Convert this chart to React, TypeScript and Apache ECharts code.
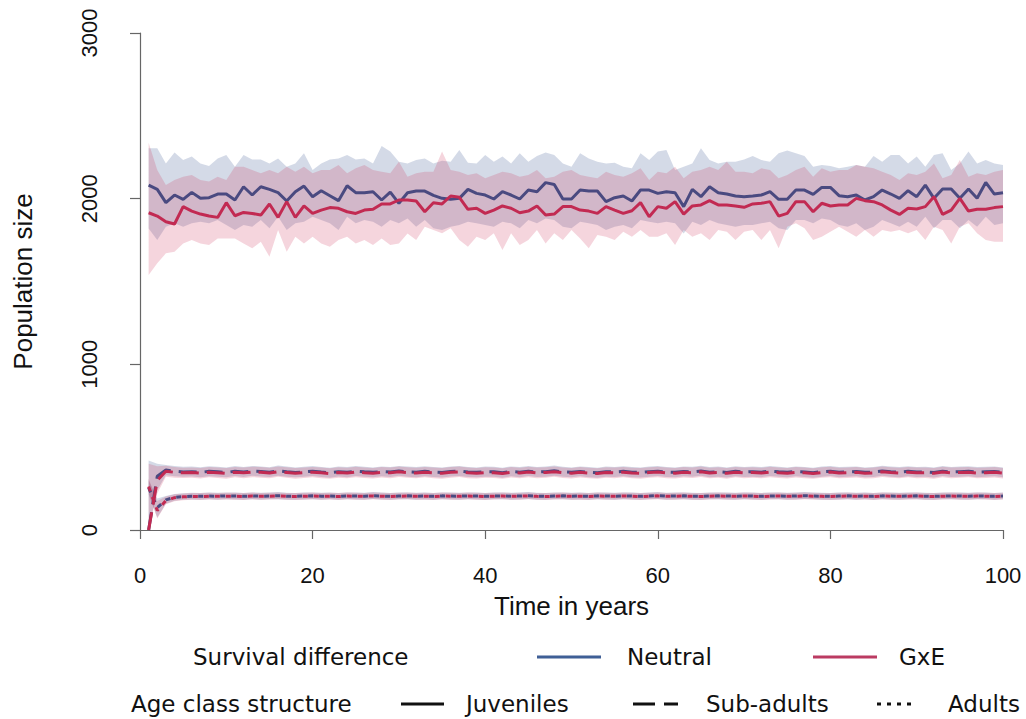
import React, { useEffect, useRef } from "react";
import * as echarts from "echarts";

const years = Array.from({ length: 100 }, (_, i) => i + 1);
const xTicks = [0, 20, 40, 60, 80, 100];
const yTicks = [0, 1000, 2000, 3000];

// Juveniles
const nJuv = [
  2082, 2056, 1976, 2022, 1996, 2038, 2002, 2006, 2028, 2028,
  1992, 2072, 2022, 2072, 2056, 2036, 1986, 2042, 2076, 2012,
  2048, 2018, 1988, 2078, 2036, 2036, 2042, 1992, 2040, 1972,
  2036, 2046, 2046, 2020, 2002, 1996, 2002, 2056, 2032, 2022,
  1998, 2042, 2022, 1998, 2052, 2042, 2097, 2086, 1998, 1998,
  2052, 2046, 2046, 1982, 2006, 2016, 1986, 2052, 2052, 2032,
  2042, 2036, 1952, 2056, 2012, 2072, 2036, 2028, 2016, 2012,
  2016, 2022, 2042, 1996, 1996, 2052, 2052, 2026, 2068, 2068,
  2018, 2012, 2022, 1992, 2012, 2052, 2028, 2002, 2048, 2012,
  2082, 2002, 2058, 2058, 2002, 2058, 2002, 2098, 2028, 2036,
];
const nJuvLo = [
  1820, 1750, 1831, 1851, 1831, 1851, 1861, 1851, 1871, 1841,
  1811, 1841, 1831, 1871, 1821, 1891, 1811, 1851, 1861, 1891,
  1871, 1851, 1811, 1891, 1851, 1871, 1861, 1831, 1871, 1851,
  1881, 1831, 1871, 1821, 1811, 1831, 1841, 1861, 1851, 1841,
  1831, 1861, 1851, 1821, 1871, 1851, 1881, 1871, 1831, 1821,
  1861, 1851, 1841, 1811, 1831, 1841, 1821, 1871, 1861, 1851,
  1861, 1851, 1790, 1861, 1841, 1871, 1851, 1841, 1831, 1841,
  1841, 1851, 1861, 1821, 1811, 1871, 1871, 1851, 1881, 1871,
  1841, 1831, 1851, 1811, 1831, 1871, 1851, 1831, 1861, 1831,
  1891, 1821, 1871, 1871, 1821, 1871, 1831, 1891, 1841, 1851,
];
const nJuvHi = [
  2304, 2304, 2213, 2278, 2233, 2254, 2213, 2197, 2243, 2264,
  2193, 2264, 2237, 2237, 2213, 2243, 2193, 2213, 2274, 2173,
  2213, 2237, 2243, 2264, 2237, 2243, 2213, 2318, 2284, 2223,
  2213, 2233, 2243, 2213, 2229, 2223, 2294, 2217, 2213, 2264,
  2223, 2254, 2213, 2274, 2223, 2258, 2278, 2264, 2213, 2193,
  2274, 2243, 2223, 2213, 2217, 2193, 2183, 2274, 2233, 2284,
  2294, 2173, 2193, 2213, 2304, 2233, 2213, 2223, 2223, 2237,
  2258, 2233, 2223, 2274, 2290, 2274, 2258, 2193, 2203, 2197,
  2183, 2193, 2203, 2193, 2258, 2223, 2264, 2264, 2213, 2254,
  2193, 2264, 2274, 2173, 2213, 2284, 2213, 2233, 2213, 2203,
];
const gJuv = [
  1915, 1895, 1861, 1847, 1952, 1925, 1907, 1895, 1887, 1976,
  1897, 1917, 1911, 1901, 1968, 1887, 1982, 1887, 1956, 1911,
  1931, 1946, 1942, 1921, 1911, 1931, 1936, 1968, 1968, 1992,
  1992, 1986, 1921, 1975, 1968, 2016, 2008, 1936, 1942, 1911,
  1931, 1956, 1942, 1915, 1925, 1956, 1901, 1907, 1952, 1952,
  1931, 1925, 1911, 1952, 1931, 1911, 1927, 1976, 1891, 1952,
  1942, 1982, 1907, 1956, 1962, 1988, 1962, 1962, 1956, 1948,
  1968, 1972, 1982, 1895, 1911, 1982, 1982, 1921, 1972, 1956,
  1962, 1962, 2002, 1988, 1982, 1962, 1931, 1905, 1942, 1938,
  1952, 2012, 1905, 1931, 2002, 1925, 1936, 1936, 1946, 1952,
];
const gJuvLo = [
  1539, 1610, 1670, 1680, 1730, 1750, 1730, 1720, 1760, 1760,
  1760, 1730, 1700, 1740, 1650, 1811, 1680, 1770, 1730, 1770,
  1730, 1710, 1750, 1770, 1730, 1750, 1720, 1760, 1720, 1730,
  1790, 1750, 1831, 1811, 1791, 1821, 1750, 1710, 1770, 1750,
  1791, 1690, 1791, 1720, 1750, 1811, 1730, 1791, 1750, 1811,
  1760, 1700, 1781, 1770, 1750, 1801, 1770, 1811, 1770, 1770,
  1791, 1720, 1811, 1770, 1791, 1750, 1811, 1801, 1750, 1801,
  1811, 1750, 1811, 1700, 1831, 1851, 1821, 1750, 1770, 1801,
  1831, 1801, 1770, 1811, 1770, 1811, 1801, 1811, 1791, 1811,
  1750, 1831, 1811, 1730, 1831, 1851, 1791, 1750, 1740, 1740,
];
const gJuvHi = [
  2338, 2173, 2082, 2113, 2133, 2143, 2113, 2103, 2133, 2113,
  2193, 2193, 2173, 2153, 2173, 2153, 2193, 2163, 2193, 2153,
  2173, 2173, 2203, 2153, 2183, 2203, 2173, 2163, 2153, 2223,
  2133, 2153, 2163, 2163, 2284, 2173, 2163, 2143, 2153, 2123,
  2143, 2163, 2153, 2133, 2143, 2173, 2123, 2133, 2163, 2173,
  2143, 2133, 2123, 2163, 2143, 2133, 2153, 2183, 2113, 2163,
  2153, 2193, 2123, 2163, 2173, 2193, 2173, 2223, 2163, 2163,
  2153, 2183, 2173, 2123, 2143, 2173, 2193, 2133, 2183, 2163,
  2173, 2173, 2203, 2193, 2183, 2163, 2143, 2113, 2153, 2143,
  2163, 2213, 2123, 2143, 2233, 2133, 2153, 2143, 2163, 2173,
];

// Sub-adults
const nSub = [
  0, 325, 362, 355, 350, 352, 348, 354, 351, 347,
  355, 350, 356, 353, 349, 358, 352, 347, 351, 355,
  350, 346, 352, 349, 355, 351, 348, 353, 350, 356,
  352, 349, 354, 350, 347, 353, 356, 350, 348, 352,
  351, 346, 353, 349, 355, 350, 352, 357, 351, 348,
  353, 349, 346, 352, 350, 354, 349, 347, 352, 355,
  350, 348, 353, 351, 356, 349, 352, 347, 354, 350,
  352, 349, 355, 351, 348, 353, 350, 346, 352, 355,
  349, 351, 353, 348, 350, 356, 352, 349, 354, 350,
  351, 347, 355, 350, 352, 354, 349, 351, 353, 348,
];
const nSubLo = [
  0, 240, 330, 325, 322, 323, 318, 325, 322, 318,
  326, 320, 327, 323, 320, 328, 322, 318, 321, 326,
  320, 316, 323, 319, 326, 321, 318, 324, 320, 327,
  322, 319, 325, 320, 317, 323, 326, 320, 318, 322,
  321, 316, 324, 319, 326, 320, 322, 328, 321, 318,
  324, 319, 316, 322, 320, 325, 319, 317, 322, 326,
  320, 318, 324, 321, 327, 319, 322, 317, 325, 320,
  322, 319, 326, 321, 318, 324, 320, 316, 322, 326,
  319, 321, 324, 318, 320, 327, 322, 319, 325, 320,
  321, 317, 326, 320, 322, 325, 319, 321, 324, 318,
];
const nSubHi = [
  420, 400, 392, 386, 382, 384, 379, 385, 382, 377,
  386, 381, 387, 384, 379, 390, 383, 377, 382, 386,
  381, 376, 383, 380, 386, 382, 378, 384, 381, 387,
  383, 380, 385, 381, 377, 384, 387, 381, 378, 383,
  382, 376, 384, 380, 386, 381, 383, 389, 382, 378,
  384, 380, 376, 383, 381, 385, 380, 377, 383, 386,
  381, 378, 384, 382, 388, 380, 383, 377, 385, 381,
  383, 380, 386, 382, 378, 384, 381, 376, 383, 386,
  380, 382, 384, 378, 381, 388, 383, 380, 385, 381,
  382, 377, 386, 381, 383, 385, 380, 382, 384, 378,
];
const gSub = [
  0, 300, 355, 348, 345, 347, 343, 349, 346, 342,
  349, 345, 350, 348, 344, 352, 347, 342, 346, 349,
  345, 341, 347, 344, 350, 346, 343, 348, 345, 351,
  347, 344, 349, 345, 342, 348, 351, 345, 343, 347,
  346, 341, 348, 344, 350, 345, 347, 352, 346, 343,
  348, 344, 341, 347, 345, 349, 344, 342, 347, 350,
  345, 343, 348, 346, 351, 344, 347, 342, 349, 345,
  347, 344, 350, 346, 343, 348, 345, 341, 347, 350,
  344, 346, 348, 343, 345, 351, 347, 344, 349, 345,
  346, 342, 350, 345, 347, 349, 344, 346, 348, 343,
];
const gSubLo = [
  0, 220, 322, 316, 314, 316, 311, 318, 314, 310,
  318, 313, 319, 316, 312, 321, 315, 310, 314, 318,
  313, 309, 316, 312, 319, 314, 311, 317, 313, 320,
  315, 312, 318, 313, 310, 316, 320, 313, 311, 315,
  314, 309, 317, 312, 319, 313, 315, 321, 314, 311,
  317, 312, 309, 315, 313, 318, 312, 310, 315, 319,
  313, 311, 317, 314, 320, 312, 315, 310, 318, 313,
  315, 312, 319, 314, 311, 317, 313, 309, 315, 319,
  312, 314, 317, 311, 313, 320, 315, 312, 318, 313,
  314, 310, 319, 313, 315, 318, 312, 314, 317, 311,
];
const gSubHi = [
  400, 385, 388, 380, 376, 378, 375, 381, 378, 374,
  381, 377, 382, 380, 376, 384, 379, 374, 378, 381,
  377, 373, 379, 376, 382, 378, 375, 380, 377, 383,
  379, 376, 381, 377, 374, 380, 383, 377, 375, 379,
  378, 373, 380, 376, 382, 377, 379, 384, 378, 375,
  380, 376, 373, 379, 377, 381, 376, 374, 379, 382,
  377, 375, 380, 378, 383, 376, 379, 374, 381, 377,
  379, 376, 382, 378, 375, 380, 377, 373, 379, 382,
  376, 378, 380, 375, 377, 383, 379, 376, 381, 377,
  378, 374, 382, 377, 379, 381, 376, 378, 380, 375,
];

// Adults
const nAd = [
  255, 135, 182, 197, 202, 204, 203, 205, 204, 206,
  205, 203, 206, 204, 205, 207, 204, 203, 205, 206,
  204, 205, 203, 206, 205, 204, 207, 205, 203, 205,
  206, 204, 205, 203, 206, 205, 204, 206, 205, 203,
  205, 206, 204, 205, 207, 204, 203, 205, 206, 204,
  205, 203, 206, 205, 204, 206, 205, 203, 205, 207,
  204, 205, 206, 204, 203, 205, 206, 205, 204, 206,
  205, 203, 205, 206, 204, 205, 207, 205, 204, 203,
  205, 206, 204, 205, 203, 206, 205, 204, 205, 206,
  204, 203, 205, 206, 205, 204, 206, 205, 203, 205,
];
const nAdLo = [
  215, 75, 158, 176, 182, 184, 182, 185, 183, 186,
  184, 182, 186, 183, 185, 186, 183, 182, 184, 186,
  183, 185, 182, 186, 184, 183, 187, 184, 182, 185,
  186, 183, 184, 182, 186, 184, 183, 186, 184, 182,
  185, 186, 183, 184, 187, 183, 182, 185, 186, 183,
  184, 182, 186, 184, 183, 186, 184, 182, 185, 187,
  183, 184, 186, 183, 182, 185, 186, 184, 183, 186,
  184, 182, 185, 186, 183, 184, 187, 185, 183, 182,
  184, 186, 183, 185, 182, 186, 184, 183, 185, 186,
  183, 182, 185, 186, 184, 183, 186, 185, 182, 185,
];
const nAdHi = [
  300, 190, 205, 218, 222, 225, 224, 226, 225, 227,
  226, 224, 227, 225, 226, 229, 225, 224, 226, 227,
  225, 226, 224, 227, 226, 225, 229, 226, 224, 226,
  227, 225, 226, 224, 227, 226, 225, 227, 226, 224,
  226, 227, 225, 226, 229, 225, 224, 226, 227, 225,
  226, 224, 227, 226, 225, 227, 226, 224, 226, 229,
  225, 226, 227, 225, 224, 226, 227, 226, 225, 227,
  226, 224, 226, 227, 225, 226, 229, 226, 225, 224,
  226, 227, 225, 226, 224, 227, 226, 225, 226, 227,
  225, 224, 226, 227, 226, 225, 227, 226, 224, 226,
];
const gAd = [
  262, 118, 178, 195, 200, 203, 202, 204, 203, 204,
  204, 202, 205, 203, 204, 206, 203, 202, 204, 205,
  203, 204, 202, 205, 204, 203, 206, 204, 202, 204,
  205, 203, 204, 202, 205, 204, 203, 205, 204, 202,
  204, 205, 203, 204, 206, 203, 202, 204, 205, 203,
  204, 202, 205, 204, 203, 205, 204, 202, 204, 206,
  203, 204, 205, 203, 202, 204, 205, 204, 203, 205,
  204, 202, 204, 205, 203, 204, 206, 204, 203, 202,
  204, 205, 203, 204, 202, 205, 204, 203, 204, 205,
  203, 202, 204, 205, 204, 203, 205, 204, 202, 204,
];
const gAdLo = [
  225, 70, 155, 174, 180, 183, 181, 184, 182, 184,
  183, 181, 185, 182, 184, 185, 182, 181, 183, 185,
  182, 184, 181, 185, 183, 182, 186, 183, 181, 184,
  185, 182, 183, 181, 185, 183, 182, 185, 183, 181,
  184, 185, 182, 183, 186, 182, 181, 184, 185, 182,
  183, 181, 185, 183, 182, 185, 183, 181, 184, 186,
  182, 183, 185, 182, 181, 184, 185, 183, 182, 185,
  183, 181, 184, 185, 182, 183, 186, 184, 182, 181,
  183, 185, 182, 184, 181, 185, 183, 182, 184, 185,
  182, 181, 184, 185, 183, 182, 185, 184, 181, 184,
];
const gAdHi = [
  310, 175, 202, 216, 221, 224, 223, 225, 224, 225,
  225, 223, 226, 224, 225, 227, 224, 223, 225, 226,
  224, 225, 223, 226, 225, 224, 227, 225, 223, 225,
  226, 224, 225, 223, 226, 225, 224, 226, 225, 223,
  225, 226, 224, 225, 227, 224, 223, 225, 226, 224,
  225, 223, 226, 225, 224, 226, 225, 223, 225, 227,
  224, 225, 226, 224, 223, 225, 226, 225, 224, 226,
  225, 223, 225, 226, 224, 225, 227, 225, 224, 223,
  225, 226, 224, 225, 223, 226, 225, 224, 225, 226,
  224, 223, 225, 226, 225, 224, 226, 225, 223, 225,
];

const NEU_LINE = "#4a4a80";
const GXE_LINE = "#c22a52";
const NEU_BAND = "rgba(60,85,145,0.22)";
const GXE_BAND = "rgba(205,45,85,0.2)";
const NEU_LEG = "#3f5f96";
const GXE_LEG = "#bb3b62";

const AXIS_FONT = "'Liberation Sans', Arial, sans-serif";
const LEG_FONT = "'DejaVu Sans', sans-serif";

function band(lo: number[], hi: number[], color: string) {
  return {
    type: "custom",
    silent: true,
    clip: false,
    data: [[50, 1000]],
    renderItem: (_params: any, api: any) => {
      const pts: number[][] = [];
      for (let i = 0; i < years.length; i++) pts.push(api.coord([years[i], hi[i]]));
      for (let i = years.length - 1; i >= 0; i--) pts.push(api.coord([years[i], lo[i]]));
      return {
        type: "polygon",
        shape: { points: pts },
        style: { fill: color, stroke: "none" },
      };
    },
  };
}

function line(v: number[], color: string, width: number, type: any) {
  return {
    type: "line",
    data: years.map((t, i) => [t, v[i]]),
    symbol: "none",
    lineStyle: { color, width, type, cap: "butt" },
    silent: true,
  };
}

export default function App() {
  const ref = useRef<HTMLDivElement>(null);
  useEffect(() => {
    if (!ref.current) return;
    const chart = echarts.init(ref.current, undefined, { renderer: "svg" });
    const dashed = [18, 8];
    const dotted = [5, 6];
    const legY1 = 657;
    const legY2 = 704;
    const legText = (text: string, x: number, y: number) => ({
      type: "text",
      x,
      y,
      style: { text, font: `23px ${LEG_FONT}`, fill: "#111", verticalAlign: "middle", align: "left" },
    });
    const legLine = (x1: number, x2: number, y: number, stroke: string, dash: any) => ({
      type: "line",
      shape: { x1, y1: y, x2, y2: y },
      style: { stroke, lineWidth: 3, lineDash: dash },
    });
    chart.setOption({
      animation: false,
      backgroundColor: "#fff",
      grid: { left: 140, right: 23, top: 33, bottom: 189, containLabel: false },
      xAxis: {
        type: "value",
        min: xTicks[0],
        max: xTicks[xTicks.length - 1],
        interval: 20,
        offset: 20,
        name: "Time in years",
        nameLocation: "middle",
        nameGap: 43,
        nameTextStyle: { fontSize: 26, fontFamily: AXIS_FONT, color: "#111" },
        axisLine: { show: true, lineStyle: { color: "#666", width: 1.2 } },
        axisTick: { show: true, length: 9, lineStyle: { color: "#666", width: 1.2 } },
        axisLabel: { fontSize: 22, fontFamily: AXIS_FONT, color: "#111", margin: 14 },
        splitLine: { show: false },
      },
      yAxis: {
        type: "value",
        min: yTicks[0],
        max: yTicks[yTicks.length - 1],
        interval: 1000,
        offset: 22,
        name: "Population size",
        nameLocation: "middle",
        nameGap: 82,
        nameTextStyle: { fontSize: 26, fontFamily: AXIS_FONT, color: "#111" },
        axisLine: { show: true, lineStyle: { color: "#666", width: 1.2 } },
        axisTick: { show: true, length: 10, lineStyle: { color: "#666", width: 1.2 } },
        axisLabel: {
          fontSize: 22,
          fontFamily: AXIS_FONT,
          color: "#111",
          rotate: 90,
          margin: 18,
          formatter: (v: number) => String(v),
        },
        splitLine: { show: false },
      },
      series: [
        band(nJuvLo, nJuvHi, NEU_BAND),
        band(nSubLo, nSubHi, NEU_BAND),
        band(nAdLo, nAdHi, NEU_BAND),
        band(gJuvLo, gJuvHi, GXE_BAND),
        band(gSubLo, gSubHi, GXE_BAND),
        band(gAdLo, gAdHi, GXE_BAND),
        line(nJuv, NEU_LINE, 3, "solid"),
        line(nSub, NEU_LINE, 3, dashed),
        line(nAd, NEU_LINE, 3, dotted),
        line(gJuv, GXE_LINE, 3, "solid"),
        line(gSub, GXE_LINE, 3, dashed),
        line(gAd, GXE_LINE, 3, dotted),
      ],
      graphic: [
        legText("Survival difference", 193, legY1),
        legLine(537, 601, legY1, NEU_LEG, null),
        legText("Neutral", 627, legY1),
        legLine(813, 877, legY1, GXE_LEG, null),
        legText("GxE", 899, legY1),
        legText("Age class structure", 131, legY2),
        legLine(401, 444, legY2, "#111", null),
        legText("Juveniles", 466, legY2),
        legLine(633, 678, legY2, "#111", [22, 9]),
        legText("Sub-adults", 706, legY2),
        legLine(877, 912, legY2, "#111", [4, 6]),
        legText("Adults", 948, legY2),
      ],
    });
    return () => chart.dispose();
  }, []);
  return (
    <div
      ref={ref}
      style={{ position: "fixed", left: 0, top: 0, width: 1026, height: 719, background: "#fff" }}
    />
  );
}
